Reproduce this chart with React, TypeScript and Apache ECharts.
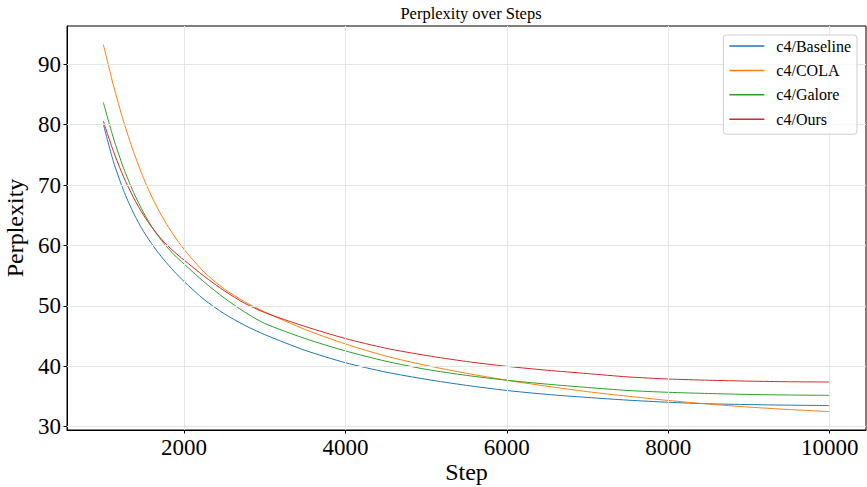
import React, { useEffect, useRef } from "react";
import * as echarts from "echarts";

const steps = [1000, 1125, 1250, 1375, 1500, 1625, 1750, 1875, 2000, 2250, 2500, 2750, 3000, 3500, 4000, 4500, 5000, 5500, 6000, 6500, 7000, 7500, 8000, 8500, 9000, 9500, 10000];
const baseline = [80.1, 73.9, 69.15, 65.35, 62.3, 59.8, 57.65, 55.75, 54.05, 51.05, 48.7, 46.8, 45.25, 42.65, 40.6, 39.05, 37.85, 36.85, 36.0, 35.35, 34.85, 34.4, 34.05, 33.8, 33.67, 33.57, 33.5];
const cola = [93.3, 86.5, 80.6, 75.5, 71.1, 67.4, 64.3, 61.65, 59.35, 55.6, 52.8, 50.7, 49.0, 46.1, 43.7, 41.7, 40.15, 38.85, 37.7, 36.7, 35.8, 35.05, 34.35, 33.75, 33.25, 32.85, 32.5];
const galore = [83.7, 77.8, 72.85, 68.8, 65.4, 62.6, 60.35, 58.5, 56.95, 53.95, 51.3, 49.0, 47.1, 44.6, 42.55, 40.85, 39.5, 38.5, 37.7, 37.05, 36.5, 36.0, 35.7, 35.5, 35.35, 35.25, 35.2];
const ours = [80.6, 75.6, 71.4, 67.9, 65.0, 62.6, 60.6, 59.0, 57.6, 54.9, 52.5, 50.45, 48.9, 46.6, 44.6, 43.0, 41.8, 40.8, 40.0, 39.35, 38.8, 38.25, 37.9, 37.7, 37.55, 37.45, 37.4];

const seriesNames = ["c4/Baseline", "c4/COLA", "c4/Galore", "c4/Ours"];
const seriesColors = ["#1f77b4", "#ff7f0e", "#2ca02c", "#d62728"];
const xTicks = [2000, 4000, 6000, 8000, 10000];
const yTicks = [30, 40, 50, 60, 70, 80, 90];

const FONT = "'Liberation Serif', 'Times New Roman', serif";

export default function App() {
  const ref = useRef<HTMLDivElement>(null);
  useEffect(() => {
    if (!ref.current) return;
    const chart = echarts.init(ref.current, null, { renderer: "svg" });
    const values = [baseline, cola, galore, ours];
    const lineSeries = seriesNames.map((name, i) => ({
      name,
      type: "line",
      data: steps.map((s, j) => [s, values[i][j]]),
      showSymbol: false,
      smooth: 0.25,
      lineStyle: { color: seriesColors[i], width: 1 },
      itemStyle: { color: seriesColors[i] },
      z: 3,
    }));
    chart.setOption({
      animation: false,
      backgroundColor: "#fff",
      title: {
        text: "Perplexity over Steps",
        left: 466,
        textAlign: "center",
        top: 0,
        textStyle: { fontFamily: FONT, fontSize: 16.5, fontWeight: "normal", color: "#000" },
      },
      grid: {
        left: 67,
        right: 1,
        top: 26,
        bottom: 57,
        outerBoundsMode: "none",
        containLabel: false,
        show: true,
        borderColor: "#000",
        borderWidth: 1,
        backgroundColor: "transparent",
      },
      legend: {
        data: seriesNames,
        orient: "vertical",
        right: 10,
        top: 35,
        z: 10,
        icon: "rect",
        itemWidth: 35,
        itemHeight: 1.5,
        itemGap: 4.4,
        padding: [1, 6, 5, 6],
        borderColor: "#d0d0d0",
        borderWidth: 1,
        borderRadius: 3,
        backgroundColor: "rgba(255,255,255,0.8)",
        textStyle: { fontFamily: FONT, fontSize: 16, color: "#000", lineHeight: 20, padding: [0, 0, 0, 7] },
      },
      xAxis: {
        type: "value",
        min: 550,
        max: 10450,
        name: "Step",
        nameLocation: "middle",
        nameGap: 30,
        nameMoveOverlap: false,
        nameTextStyle: { fontFamily: FONT, fontSize: 24, lineHeight: 24, color: "#000" },
        axisLine: { show: true, lineStyle: { color: "#000", width: 1 } },
        axisTick: { show: true, length: 3.5, customValues: xTicks, lineStyle: { color: "#000" } },
        axisLabel: {
          customValues: xTicks,
          formatter: (v: number) => String(v),
          fontFamily: FONT,
          fontSize: 23,
          color: "#000",
          margin: 6,
        },
        splitLine: { show: false },
      },
      yAxis: {
        type: "value",
        min: 29.46,
        max: 96.34,
        name: "Perplexity",
        nameLocation: "middle",
        nameGap: 32,
        nameTextStyle: { fontFamily: FONT, fontSize: 24, color: "#000" },
        axisLine: { show: true, lineStyle: { color: "#000", width: 1 } },
        axisTick: { show: true, length: 3.5, customValues: yTicks, lineStyle: { color: "#000" } },
        axisLabel: {
          customValues: yTicks,
          formatter: (v: number) => String(v),
          fontFamily: FONT,
          fontSize: 23,
          color: "#000",
          margin: 6,
        },
        splitLine: { show: false },
      },
      series: [
        {
          name: "grid",
          type: "line",
          data: [],
          z: 1,
          silent: true,
          markLine: {
            silent: true,
            symbol: "none",
            label: { show: false },
            lineStyle: { color: "#e6e6e6", width: 1, type: "solid" },
            data: [
              ...xTicks.map((v) => ({ xAxis: v })),
              ...yTicks.map((v) => ({ yAxis: v })),
            ],
          },
        },
        ...lineSeries,
      ],
    });
    return () => chart.dispose();
  }, []);
  return <div ref={ref} style={{ width: 867, height: 487, position: "absolute", left: 0, top: 0 }} />;
}
